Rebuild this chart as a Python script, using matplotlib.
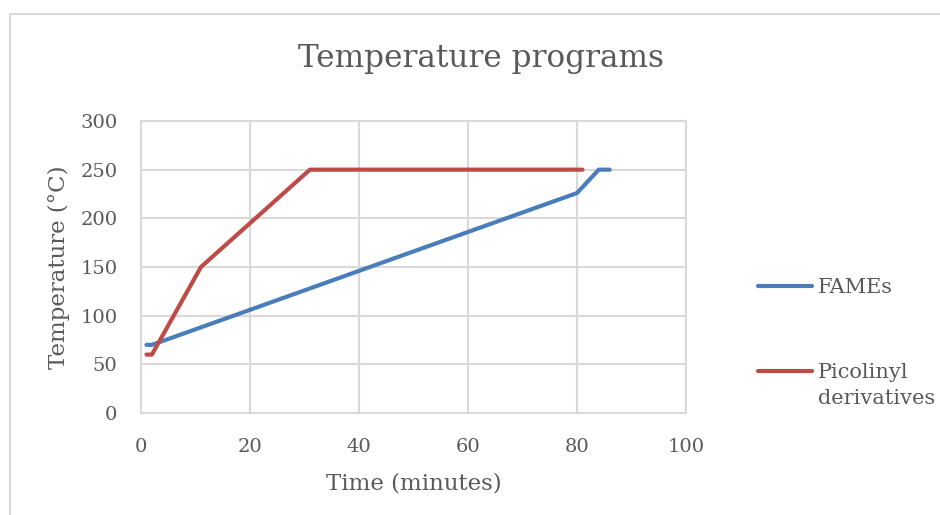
import matplotlib.pyplot as plt
import matplotlib.patches as patches

# Oven temperature programs (time in minutes, temperature in °C)
fames_time = [1, 2, 80, 84, 86]
fames_temp = [70, 70, 226, 250, 250]
pico_time = [1, 2, 11, 31, 81]
pico_temp = [60, 60, 150, 250, 250]

series_names = ['FAMEs', 'Picolinyl\nderivatives']
x_ticks = [0, 20, 40, 60, 80, 100]
y_ticks = [0, 50, 100, 150, 200, 250, 300]

text_col = '#595959'
grid_col = '#d9d9d9'
plt.rcParams['font.family'] = ['DejaVu Serif']

fig = plt.figure(figsize=(9.4, 5.15), dpi=100)
W, H = 940, 515

# chart frame
fig.patches.append(patches.Rectangle((10 / W, -0.1), 1.2, 1 - 13.5 / H + 0.1,
                                     transform=fig.transFigure, fill=False,
                                     edgecolor=grid_col, lw=1.5))

ax = fig.add_axes([141 / W, 1 - 413 / H, (686 - 141) / W, (413 - 121) / H])
l1, = ax.plot(fames_time, fames_temp, color='#4a7ebb', lw=3, solid_capstyle='round',
              solid_joinstyle='round')
l2, = ax.plot(pico_time, pico_temp, color='#be4b48', lw=3, solid_capstyle='round',
              solid_joinstyle='round')

ax.set_xlim(0, 100)
ax.set_ylim(0, 300)
ax.set_xticks(x_ticks)
ax.set_yticks(y_ticks)
ax.grid(True, color=grid_col, lw=1.5)
ax.set_axisbelow(True)
for s in ax.spines.values():
    s.set_color(grid_col)
    s.set_linewidth(1.5)
ax.tick_params(length=0, labelsize=14, labelcolor=text_col)
ax.tick_params(axis='x', pad=18)
ax.tick_params(axis='y', pad=17)

ax.set_xlabel('Time (minutes)', fontsize=16.5, color=text_col, labelpad=12)
ax.set_ylabel('Temperature (°C)', fontsize=16.5, color=text_col, labelpad=7.5)
fig.text(481 / W, 1 - 59 / H, 'Temperature programs', ha='center', va='center',
         fontsize=22.4, color=text_col)

# legend to the right of the plot area
lx0, lx1 = 758 / W, 812 / W
for line, name, yp in [(l1, series_names[0], 286), (l2, series_names[1], 371)]:
    fig.lines.append(plt.Line2D([lx0, lx1], [1 - yp / H] * 2, transform=fig.transFigure,
                                color=line.get_color(), lw=3, solid_capstyle='round'))
    fig.text(818 / W, 1 - (yp - 8) / H, name, ha='left', va='top', fontsize=15,
             color=text_col, linespacing=1.45)

fig.savefig('out.png', dpi=100)
